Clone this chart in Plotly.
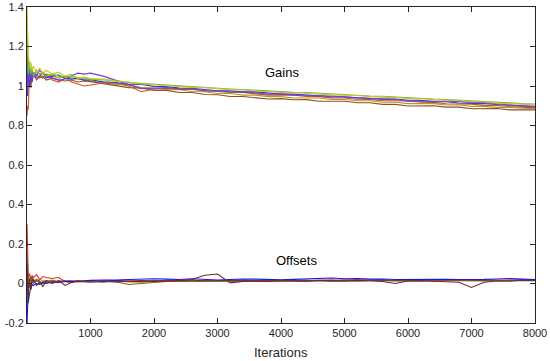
import plotly.graph_objects as go

# Iteration sample points
iters = [1, 10, 20, 40, 60, 80, 100, 150, 200, 250, 300, 400, 500, 600, 700, 800, 900,
         1000, 1200, 1400, 1600, 1800, 2000, 2200, 2400, 2600, 2800, 3000, 3200, 3400, 3600,
         3800, 4000, 4200, 4400, 4600, 4800, 5000, 5200, 5400, 5600, 5800, 6000, 6200, 6400,
         6600, 6800, 7000, 7200, 7400, 7600, 7800, 8000]

# Gains estimates
gain_yellow = [1.40, 1.22, 1.16, 1.10, 1.12, 1.08, 1.10, 1.07, 1.09, 1.06, 1.08, 1.06, 1.07, 1.05, 1.06, 1.04, 1.045,
               1.038, 1.035, 1.024, 1.020, 1.010, 1.006, 1.000, 0.999, 0.993, 0.992, 0.986, 0.981, 0.980, 0.975, 0.972, 0.967,
               0.967, 0.962, 0.960, 0.955, 0.953, 0.952, 0.946, 0.945, 0.941, 0.937, 0.936, 0.930, 0.929, 0.925, 0.920, 0.919,
               0.913, 0.912, 0.908, 0.905]
gain_green = [1.30, 1.18, 1.06, 1.12, 1.06, 1.09, 1.05, 1.08, 1.06, 1.07, 1.05, 1.06, 1.05, 1.045, 1.05, 1.04, 1.04,
              1.034, 1.031, 1.027, 1.017, 1.013, 1.008, 1.002, 1.001, 0.996, 0.991, 0.989, 0.985, 0.982, 0.978, 0.976, 0.972,
              0.968, 0.967, 0.963, 0.959, 0.957, 0.953, 0.949, 0.948, 0.944, 0.940, 0.938, 0.934, 0.932, 0.927, 0.925, 0.921,
              0.919, 0.915, 0.911, 0.909]
gain_purple = [1.10, 0.97, 1.15, 1.03, 1.09, 1.02, 1.07, 1.05, 1.08, 1.06, 1.05, 1.04, 1.03, 1.035, 1.05, 1.065, 1.06,
               1.065, 1.050, 1.030, 1.007, 0.986, 0.988, 0.992, 0.986, 0.986, 0.976, 0.976, 0.971, 0.971, 0.965, 0.958, 0.960,
               0.954, 0.953, 0.952, 0.945, 0.945, 0.940, 0.938, 0.932, 0.933, 0.923, 0.924, 0.923, 0.923, 0.922, 0.916, 0.916,
               0.909, 0.905, 0.898, 0.895]
gain_blue = [1.05, 0.95, 1.08, 1.00, 1.05, 1.02, 1.06, 1.04, 1.05, 1.07, 1.04, 1.05, 1.055, 1.04, 1.035, 1.04, 1.03,
             1.032, 1.021, 1.018, 1.009, 1.008, 0.998, 0.997, 0.989, 0.988, 0.982, 0.976, 0.976, 0.970, 0.970, 0.964, 0.959,
             0.959, 0.954, 0.949, 0.949, 0.944, 0.942, 0.936, 0.935, 0.934, 0.928, 0.927, 0.921, 0.920, 0.914, 0.913, 0.911,
             0.906, 0.904, 0.899, 0.897]
gain_red = [0.85, 0.90, 0.88, 1.06, 0.99, 1.04, 1.06, 1.03, 1.05, 1.04, 1.06, 1.03, 1.02, 1.04, 1.02, 1.01, 1.00,
            1.005, 1.015, 1.014, 1.000, 0.971, 0.985, 0.988, 0.982, 0.982, 0.975, 0.973, 0.967, 0.967, 0.962, 0.954, 0.954,
            0.953, 0.947, 0.946, 0.940, 0.939, 0.933, 0.932, 0.926, 0.925, 0.924, 0.918, 0.917, 0.910, 0.909, 0.908, 0.902,
            0.901, 0.896, 0.894, 0.889]
gain_brown = [1.20, 1.02, 1.10, 1.06, 1.03, 1.07, 1.05, 1.06, 1.04, 1.05, 1.03, 1.04, 1.03, 1.025, 1.03, 1.02, 1.025,
              1.022, 1.013, 1.003, 0.992, 0.990, 0.978, 0.978, 0.967, 0.967, 0.957, 0.956, 0.947, 0.947, 0.942, 0.934, 0.936,
              0.930, 0.931, 0.923, 0.923, 0.923, 0.915, 0.915, 0.907, 0.907, 0.899, 0.900, 0.900, 0.893, 0.893, 0.885, 0.886,
              0.886, 0.879, 0.879, 0.879]
gain_olive = [0.95, 1.12, 1.00, 1.07, 1.04, 1.08, 1.05, 1.07, 1.06, 1.04, 1.06, 1.05, 1.04, 1.05, 1.04, 1.035, 1.03,
              1.025, 1.017, 1.008, 1.006, 0.994, 0.990, 0.982, 0.981, 0.972, 0.971, 0.962, 0.962, 0.954, 0.954, 0.946, 0.946,
              0.939, 0.939, 0.939, 0.932, 0.932, 0.925, 0.925, 0.918, 0.918, 0.911, 0.911, 0.911, 0.904, 0.904, 0.897, 0.897,
              0.892, 0.892, 0.887, 0.885]

# Offsets estimates
off_blue = [-0.20, -0.05, -0.02, -0.01, -0.03, -0.005, -0.01, 0.00, -0.005, 0.005, 0.00, 0.008, 0.005, 0.010, 0.012, 0.010, 0.014,
            0.016, 0.018, 0.017, 0.020, 0.022, 0.024, 0.022, 0.020, 0.024, 0.021, 0.018, 0.020, 0.023, 0.022, 0.020, 0.019,
            0.021, 0.023, 0.026, 0.028, 0.024, 0.025, 0.022, 0.023, 0.020, 0.021, 0.020, 0.022, 0.021, 0.020, 0.019, 0.021,
            0.023, 0.025, 0.022, 0.020]
off_red = [0.30, 0.06, 0.03, 0.05, 0.025, 0.04, 0.03, 0.045, 0.02, 0.035, 0.03, 0.025, 0.03, 0.01, 0.005, 0.015, 0.01,
           0.012, 0.010, 0.014, 0.012, 0.015, 0.013, 0.016, 0.014, 0.012, 0.015, 0.013, 0.016, 0.014, 0.015, 0.017, 0.015,
           0.016, 0.014, 0.017, 0.015, 0.016, 0.018, 0.016, 0.017, 0.015, 0.016, 0.018, 0.016, 0.017, 0.015, 0.016, 0.017,
           0.016, 0.018, 0.017, 0.016]
off_gray = [0.05, -0.08, -0.10, -0.05, -0.02, 0.03, 0.00, 0.02, 0.01, 0.00, 0.015, 0.005, 0.012, 0.01, 0.008, 0.012, 0.01,
            0.012, 0.008, 0.015, 0.010, 0.014, 0.011, 0.012, 0.016, 0.018, 0.013, 0.014, 0.015, 0.016, 0.013, 0.014, 0.012,
            0.015, 0.016, 0.014, 0.012, 0.016, 0.013, 0.015, 0.017, 0.014, 0.016, 0.015, 0.013, 0.016, 0.018, 0.015, 0.014,
            0.016, 0.015, 0.017, 0.015]
off_maroon = [0.10, 0.00, -0.06, 0.02, -0.03, 0.01, 0.02, -0.01, 0.005, -0.015, 0.01, 0.0, 0.015, -0.01, 0.005, 0.01, 0.008,
              0.006, 0.010, 0.008, 0.012, 0.010, 0.014, 0.012, 0.016, 0.020, 0.042, 0.048, 0.003, 0.010, 0.012, 0.011, 0.014,
              0.013, 0.012, 0.015, 0.016, 0.012, 0.016, 0.014, 0.010, 0.000, 0.013, 0.014, 0.012, 0.011, 0.006, -0.020, 0.006,
              0.013, 0.012, 0.015, 0.014]
off_olive = [0.00, 0.02, 0.04, 0.01, 0.03, 0.015, 0.02, 0.01, 0.02, 0.015, 0.012, 0.018, 0.010, 0.015, 0.012, 0.014, 0.013,
             0.013, 0.012, 0.014, 0.008, 0.006, 0.010, 0.012, 0.014, 0.011, 0.013, 0.015, 0.012, 0.014, 0.013, 0.015, 0.014,
             0.016, 0.015, 0.014, 0.016, 0.017, 0.020, 0.018, 0.016, 0.015, 0.017, 0.016, 0.015, 0.017, 0.016, 0.018, 0.017,
             0.016, 0.018, 0.017, 0.016]
off_brown = [0.15, 0.04, 0.00, 0.03, 0.01, 0.035, 0.01, 0.02, 0.0, 0.01, 0.005, 0.015, 0.008, 0.012, 0.01, 0.009, 0.011,
             0.010, 0.012, 0.009, -0.005, 0.000, 0.008, 0.010, 0.012, 0.011, 0.010, 0.013, 0.012, 0.014, 0.011, 0.013, 0.012,
             0.014, 0.013, 0.015, 0.012, 0.014, 0.016, 0.014, 0.013, 0.015, 0.014, 0.013, 0.015, 0.014, 0.016, 0.015, 0.013,
             0.015, 0.014, 0.016, 0.015]

x_ticks = [1000, 2000, 3000, 4000, 5000, 6000, 7000, 8000]
y_ticks = [-0.2, 0, 0.2, 0.4, 0.6, 0.8, 1, 1.2, 1.4]
y_tick_text = ["-0.2", "0", "0.2", "0.4", "0.6", "0.8", "1", "1.2", "1.4"]

series = [
    (gain_olive, "#B39B1E"),
    (gain_brown, "#8A5320"),
    (gain_red, "#D8501A"),
    (gain_blue, "#2B3BE6"),
    (gain_purple, "#7040D8"),
    (gain_green, "#6DBE3A"),
    (gain_yellow, "#CCC41C"),
    (off_olive, "#A89020"),
    (off_red, "#E0341A"),
    (off_gray, "#3C3C3C"),
    (off_brown, "#8A5A22"),
    (off_blue, "#1515F0"),
    (off_maroon, "#6E2A30"),
]

fig = go.Figure()
for ys, col in series:
    fig.add_trace(go.Scatter(x=iters, y=ys, mode="lines",
                             line=dict(color=col, width=1.1),
                             showlegend=False, hoverinfo="skip"))

FONT = "Arial, Liberation Sans, sans-serif"
fig.add_annotation(x=4020, y=1.066, text="Gains", showarrow=False,
                   font=dict(size=13, color="#000000", family=FONT))
fig.add_annotation(x=4250, y=0.118, text="Offsets", showarrow=False,
                   font=dict(size=13, color="#000000", family=FONT))
fig.add_annotation(xref="paper", yref="paper", x=0.5, y=-0.092, yanchor="middle",
                   text="Iterations", showarrow=False,
                   font=dict(size=13, color="#262626", family=FONT))

axis_common = dict(showline=True, linecolor="#262626", linewidth=1, mirror="ticks",
                   ticks="inside", ticklen=5, tickcolor="#262626", showgrid=False,
                   zeroline=False, automargin=False,
                   tickfont=dict(size=11, color="#262626", family=FONT))

fig.update_xaxes(range=[0, 8000], tickvals=x_ticks, ticktext=[str(v) for v in x_ticks],
                 **axis_common)
fig.update_yaxes(range=[-0.2, 1.4], tickvals=y_ticks, ticktext=y_tick_text, **axis_common)

fig.update_layout(width=550, height=361, margin=dict(l=27, r=15, t=7, b=38),
                  plot_bgcolor="white", paper_bgcolor="white",
                  font=dict(family=FONT, color="#262626"))

fig.write_html("out.html", config={"displayModeBar": False},
               post_script="document.body.style.margin='0';document.body.style.overflow='hidden';")
